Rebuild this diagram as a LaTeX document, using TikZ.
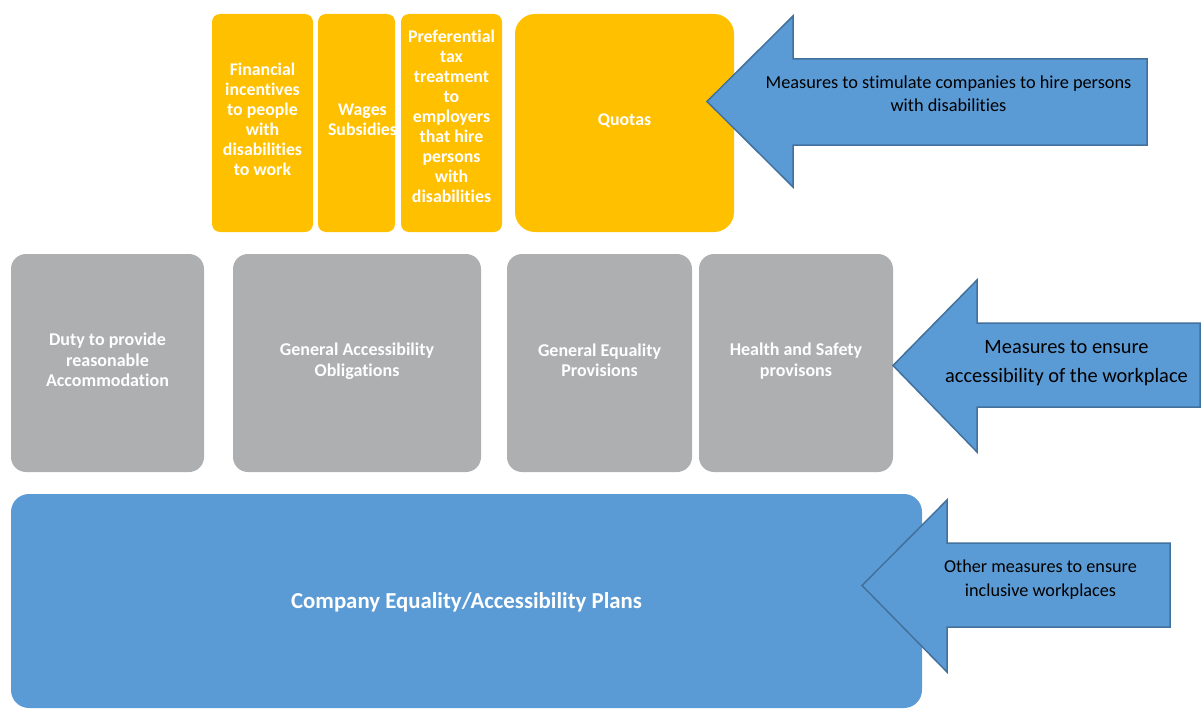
\documentclass[tikz,border=0pt]{standalone}
\usepackage{fontspec}
\setmainfont{Carlito}[Ligatures=NoCommon]
\definecolor{gold}{HTML}{FFC000}
\definecolor{slate}{HTML}{AEAFB1}
\definecolor{sky}{HTML}{5B9BD5}
\definecolor{skyline}{HTML}{41719C}
\tikzset{
  ybox/.style={fill=gold, rounded corners=8pt, inner sep=0pt},
  ytext/.style={text=white, align=center, inner sep=0pt,
    font=\bfseries\fontsize{17.8}{20}\selectfont},
  gbox/.style={fill=slate, rounded corners=15pt, inner sep=0pt},
  gtext/.style={text=white, align=center, inner sep=0pt,
    font=\bfseries\fontsize{18}{20.5}\selectfont},
  arrowshape/.style={fill=sky, draw=skyline, line width=1.5pt, line join=miter},
  arrowtext/.style={text=black, align=center, inner sep=0pt}
}
\begin{document}
\begin{tikzpicture}[x=1pt,y=-1pt]
\useasboundingbox (0,0) rectangle (1202,709);
\clip (0,0) rectangle (1202,709);

% incentive measures (top row)
\node[ybox, minimum width=101, minimum height=218] (fin) at (262.5,123) {};
\node[ytext] (fintxt) at ([yshift=4pt]fin.center)
  {Financial\\incentives\\to people\\with\\disabilities\\to work};
\node[ybox, minimum width=77, minimum height=218] (wage) at (356.5,123) {};
\node[ytext] (wagetxt) at ([xshift=6pt,yshift=3pt]wage.center) {Wages\\Subsidies};
\node[ybox, minimum width=101, minimum height=218] (tax) at (451.5,123) {};
\node[ytext] (taxtxt) at ([yshift=6.5pt]tax.center)
  {Preferential\\tax\\treatment\\to\\employers\\that hire\\persons\\with\\disabilities};
\node[ybox, rounded corners=20pt, minimum width=219, minimum height=218] (quota) at (624.5,123) {};
\node[ytext] (quotatxt) at ([yshift=2pt]quota.center) {Quotas};

% accessibility measures (middle row)
\node[gbox, minimum width=193, minimum height=218] (duty) at (107.5,363) {};
\node[gtext] (dutytxt) at ([yshift=3pt]duty.center)
  {Duty to provide\\reasonable\\Accommodation};
\node[gbox, minimum width=248, minimum height=218] (gacc) at (357,363) {};
\node[gtext] (gacctxt) at ([yshift=2pt]gacc.center) {General Accessibility\\Obligations};
\node[gbox, minimum width=185, minimum height=218] (geq) at (599.5,363) {};
\node[gtext] (geqtxt) at ([yshift=3pt]geq.center) {General Equality\\Provisions};
\node[gbox, minimum width=194, minimum height=218] (hs) at (796,363) {};
\node[gtext] (hstxt) at ([yshift=2pt]hs.center) {Health and Safety\\provisons};

% company plans (bottom)
\node[fill=sky, rounded corners=18pt, inner sep=0pt, minimum width=911, minimum height=214]
  (plans) at (466.5,601) {};
\node[text=white, inner sep=0pt, font=\bfseries\fontsize{22.8}{26}\selectfont]
  (planstxt) at ([yshift=-1pt]plans.center) {Company Equality/Accessibility Plans};

% block arrows pointing at each row
\coordinate (tipA) at (707,101.5);
\draw[arrowshape] (tipA) -- (793,16) -- (793,59) -- (1147,59) -- (1147,145)
  -- (793,145) -- (793,187) -- cycle;
\node[arrowtext, font=\fontsize{18.3}{23.3}\selectfont] (txtA) at (948.5,93.5)
  {Measures to stimulate companies to hire persons\\with disabilities};

\coordinate (tipB) at (893,365.5);
\draw[arrowshape] (tipB) -- (977,280) -- (977,323) -- (1200,323) -- (1200,407)
  -- (977,407) -- (977,452) -- cycle;
\node[arrowtext, font=\fontsize{20.4}{28.3}\selectfont] (txtB) at (1066.5,363)
  {Measures to ensure\\accessibility of the workplace};

\coordinate (tipC) at (862,585.5);
\draw[arrowshape] (tipC) -- (947,500) -- (947,543) -- (1170,543) -- (1170,627)
  -- (947,627) -- (947,672) -- cycle;
\node[arrowtext, font=\fontsize{18.2}{23.3}\selectfont] (txtC) at (1040.5,579.5)
  {Other measures to ensure\\inclusive workplaces};
\end{tikzpicture}
\end{document}
